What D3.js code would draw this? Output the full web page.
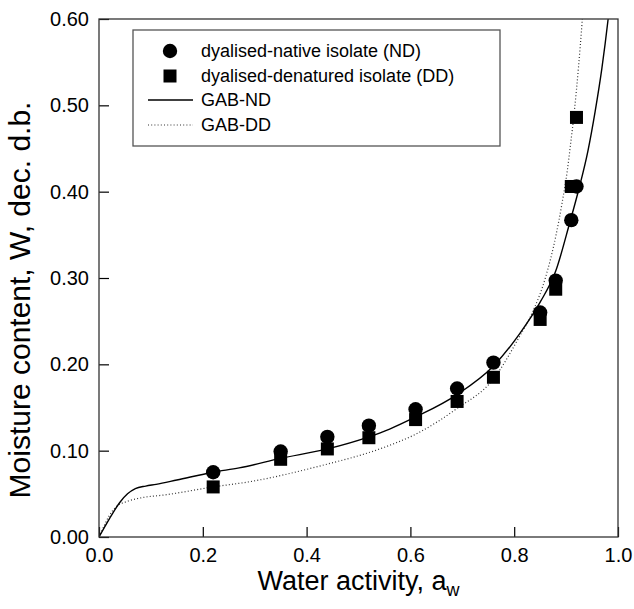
<!DOCTYPE html>
<html>
<head>
<meta charset="utf-8">
<script src="https://cdn.jsdelivr.net/npm/d3@7"></script>
<style>
  body { margin: 0; background: #fff; }
  svg { font-family: Arial, "Liberation Sans", sans-serif; }
  .tick line { stroke: #000; stroke-width: 1.2; }
  .tick text { font-size: 20px; fill: #000; }
</style>
</head>
<body>
<script>
// measured points, water activity vs moisture content
var awPoints = [0.22, 0.35, 0.44, 0.52, 0.61, 0.69, 0.76, 0.85, 0.88, 0.91, 0.92];
var wND = [0.075, 0.099, 0.116, 0.129, 0.148, 0.172, 0.202, 0.260, 0.297, 0.367, 0.406];
var wDD = [0.058, 0.090, 0.102, 0.115, 0.136, 0.157, 0.185, 0.252, 0.287, 0.406, 0.486];

// GAB fitted curves
var gabNDaw = [0, 0.02, 0.04, 0.055, 0.07, 0.09, 0.11, 0.15, 0.22, 0.27, 0.35, 0.44, 0.52, 0.56, 0.61, 0.69, 0.76, 0.81, 0.85, 0.88, 0.907, 0.925, 0.942, 0.956, 0.969, 0.981, 0.986];
var gabNDw = [0, 0.021, 0.040, 0.050, 0.056, 0.059, 0.061, 0.066, 0.075, 0.080, 0.091, 0.102, 0.116, 0.125, 0.139, 0.165, 0.198, 0.235, 0.272, 0.308, 0.364, 0.404, 0.447, 0.493, 0.543, 0.600, 0.627];
var gabDDaw = [0, 0.01, 0.02, 0.035, 0.053, 0.078, 0.13, 0.22, 0.29, 0.424, 0.55, 0.61, 0.69, 0.76, 0.81, 0.835, 0.86, 0.88, 0.892, 0.902, 0.908, 0.916, 0.924, 0.931, 0.934];
var gabDDw = [0, 0.013, 0.025, 0.036, 0.041, 0.045, 0.049, 0.058, 0.064, 0.082, 0.104, 0.119, 0.149, 0.183, 0.232, 0.260, 0.300, 0.348, 0.386, 0.423, 0.452, 0.494, 0.545, 0.598, 0.624];

var xTicks = [0, 0.2, 0.4, 0.6, 0.8, 1.0];
var yTicks = [0, 0.1, 0.2, 0.3, 0.4, 0.5, 0.6];

var legendLabels = ["dyalised-native isolate (ND)", "dyalised-denatured isolate (DD)", "GAB-ND", "GAB-DD"];

window.onload = drawChart();

function drawChart(){
    var width = 634, height = 609;
    var margin = {left: 99, top: 19, right: 16, bottom: 72};
    var innerW = width - margin.left - margin.right,
        innerH = height - margin.top - margin.bottom;

    var svg = d3.select("body").append("svg")
        .attr("width", width)
        .attr("height", height);

    var g = svg.append("g")
        .attr("transform", "translate(" + margin.left + "," + margin.top + ")");

    var x = d3.scaleLinear().domain([0, 1]).range([0, innerW]);
    var y = d3.scaleLinear().domain([0, 0.6]).range([innerH, 0]);

    //clip for the curves
    svg.append("clipPath").attr("id", "plotClip")
        .append("rect").attr("width", innerW).attr("height", innerH);

    //axes with inward ticks
    g.append("g")
        .attr("transform", "translate(0," + innerH + ")")
        .call(d3.axisBottom(x).tickValues(xTicks).tickFormat(d3.format(".1f"))
            .tickSizeInner(-10).tickSizeOuter(0).tickPadding(11))
        .call(function(a){ a.select(".domain").remove(); });

    g.append("g")
        .call(d3.axisLeft(y).tickValues(yTicks).tickFormat(d3.format(".2f"))
            .tickSizeInner(-10).tickSizeOuter(0).tickPadding(10))
        .call(function(a){ a.select(".domain").remove(); });

    //curves
    var line = d3.line()
        .x(function(d){ return x(d[0]); })
        .y(function(d){ return y(d[1]); })
        .curve(d3.curveMonotoneX);

    var ndCurve = d3.zip(gabNDaw, gabNDw);
    var ddCurve = d3.zip(gabDDaw, gabDDw);

    var curves = g.append("g").attr("clip-path", "url(#plotClip)");
    curves.append("path")
        .datum(ddCurve)
        .attr("d", line)
        .attr("fill", "none")
        .attr("stroke", "#333")
        .attr("stroke-width", 1.2)
        .attr("stroke-dasharray", "1,2.2");
    curves.append("path")
        .datum(ndCurve)
        .attr("d", line)
        .attr("fill", "none")
        .attr("stroke", "#000")
        .attr("stroke-width", 1.4);

    //points
    var sq = 13;
    g.selectAll(".dd")
        .data(d3.zip(awPoints, wDD))
        .enter().append("rect")
        .attr("class", "dd")
        .attr("x", function(d){ return x(d[0]) - sq / 2; })
        .attr("y", function(d){ return y(d[1]) - sq / 2; })
        .attr("width", sq).attr("height", sq)
        .attr("fill", "#000");

    g.selectAll(".nd")
        .data(d3.zip(awPoints, wND))
        .enter().append("circle")
        .attr("class", "nd")
        .attr("cx", function(d){ return x(d[0]); })
        .attr("cy", function(d){ return y(d[1]); })
        .attr("r", 7.2)
        .attr("fill", "#000");

    //frame
    g.append("rect")
        .attr("width", innerW).attr("height", innerH)
        .attr("fill", "none")
        .attr("stroke", "#333")
        .attr("stroke-width", 1.3);

    //axis titles
    svg.append("text")
        .attr("x", margin.left + innerW / 2)
        .attr("y", 590)
        .attr("text-anchor", "middle")
        .style("font-size", "27px")
        .text("Water activity, a")
        .append("tspan")
        .attr("dy", 6)
        .style("font-size", "18px")
        .text("w");

    svg.append("text")
        .attr("transform", "translate(30,300) rotate(-90)")
        .attr("text-anchor", "middle")
        .style("font-size", "30px")
        .text("Moisture content, W, dec. d.b.");

    //legend
    var legend = svg.append("g").attr("transform", "translate(133,30)");
    legend.append("rect")
        .attr("width", 367).attr("height", 116)
        .attr("fill", "#fff")
        .attr("stroke", "#555")
        .attr("stroke-width", 1.3);

    var rowY = [21, 46, 70, 95];
    legend.append("circle").attr("cx", 37).attr("cy", rowY[0]).attr("r", 7.2).attr("fill", "#000");
    legend.append("rect").attr("x", 37 - sq / 2).attr("y", rowY[1] - sq / 2)
        .attr("width", sq).attr("height", sq).attr("fill", "#000");
    legend.append("line").attr("x1", 15).attr("x2", 60).attr("y1", rowY[2]).attr("y2", rowY[2])
        .attr("stroke", "#000").attr("stroke-width", 1.4);
    legend.append("line").attr("x1", 15).attr("x2", 60).attr("y1", rowY[3]).attr("y2", rowY[3])
        .attr("stroke", "#333").attr("stroke-width", 1.2).attr("stroke-dasharray", "1,2.2");

    legend.selectAll(".legText")
        .data(legendLabels)
        .enter().append("text")
        .attr("class", "legText")
        .attr("x", 68)
        .attr("y", function(d, i){ return rowY[i]; })
        .attr("dy", "0.35em")
        .style("font-size", "18px")
        .text(function(d){ return d; });
}
</script>
</body>
</html>
